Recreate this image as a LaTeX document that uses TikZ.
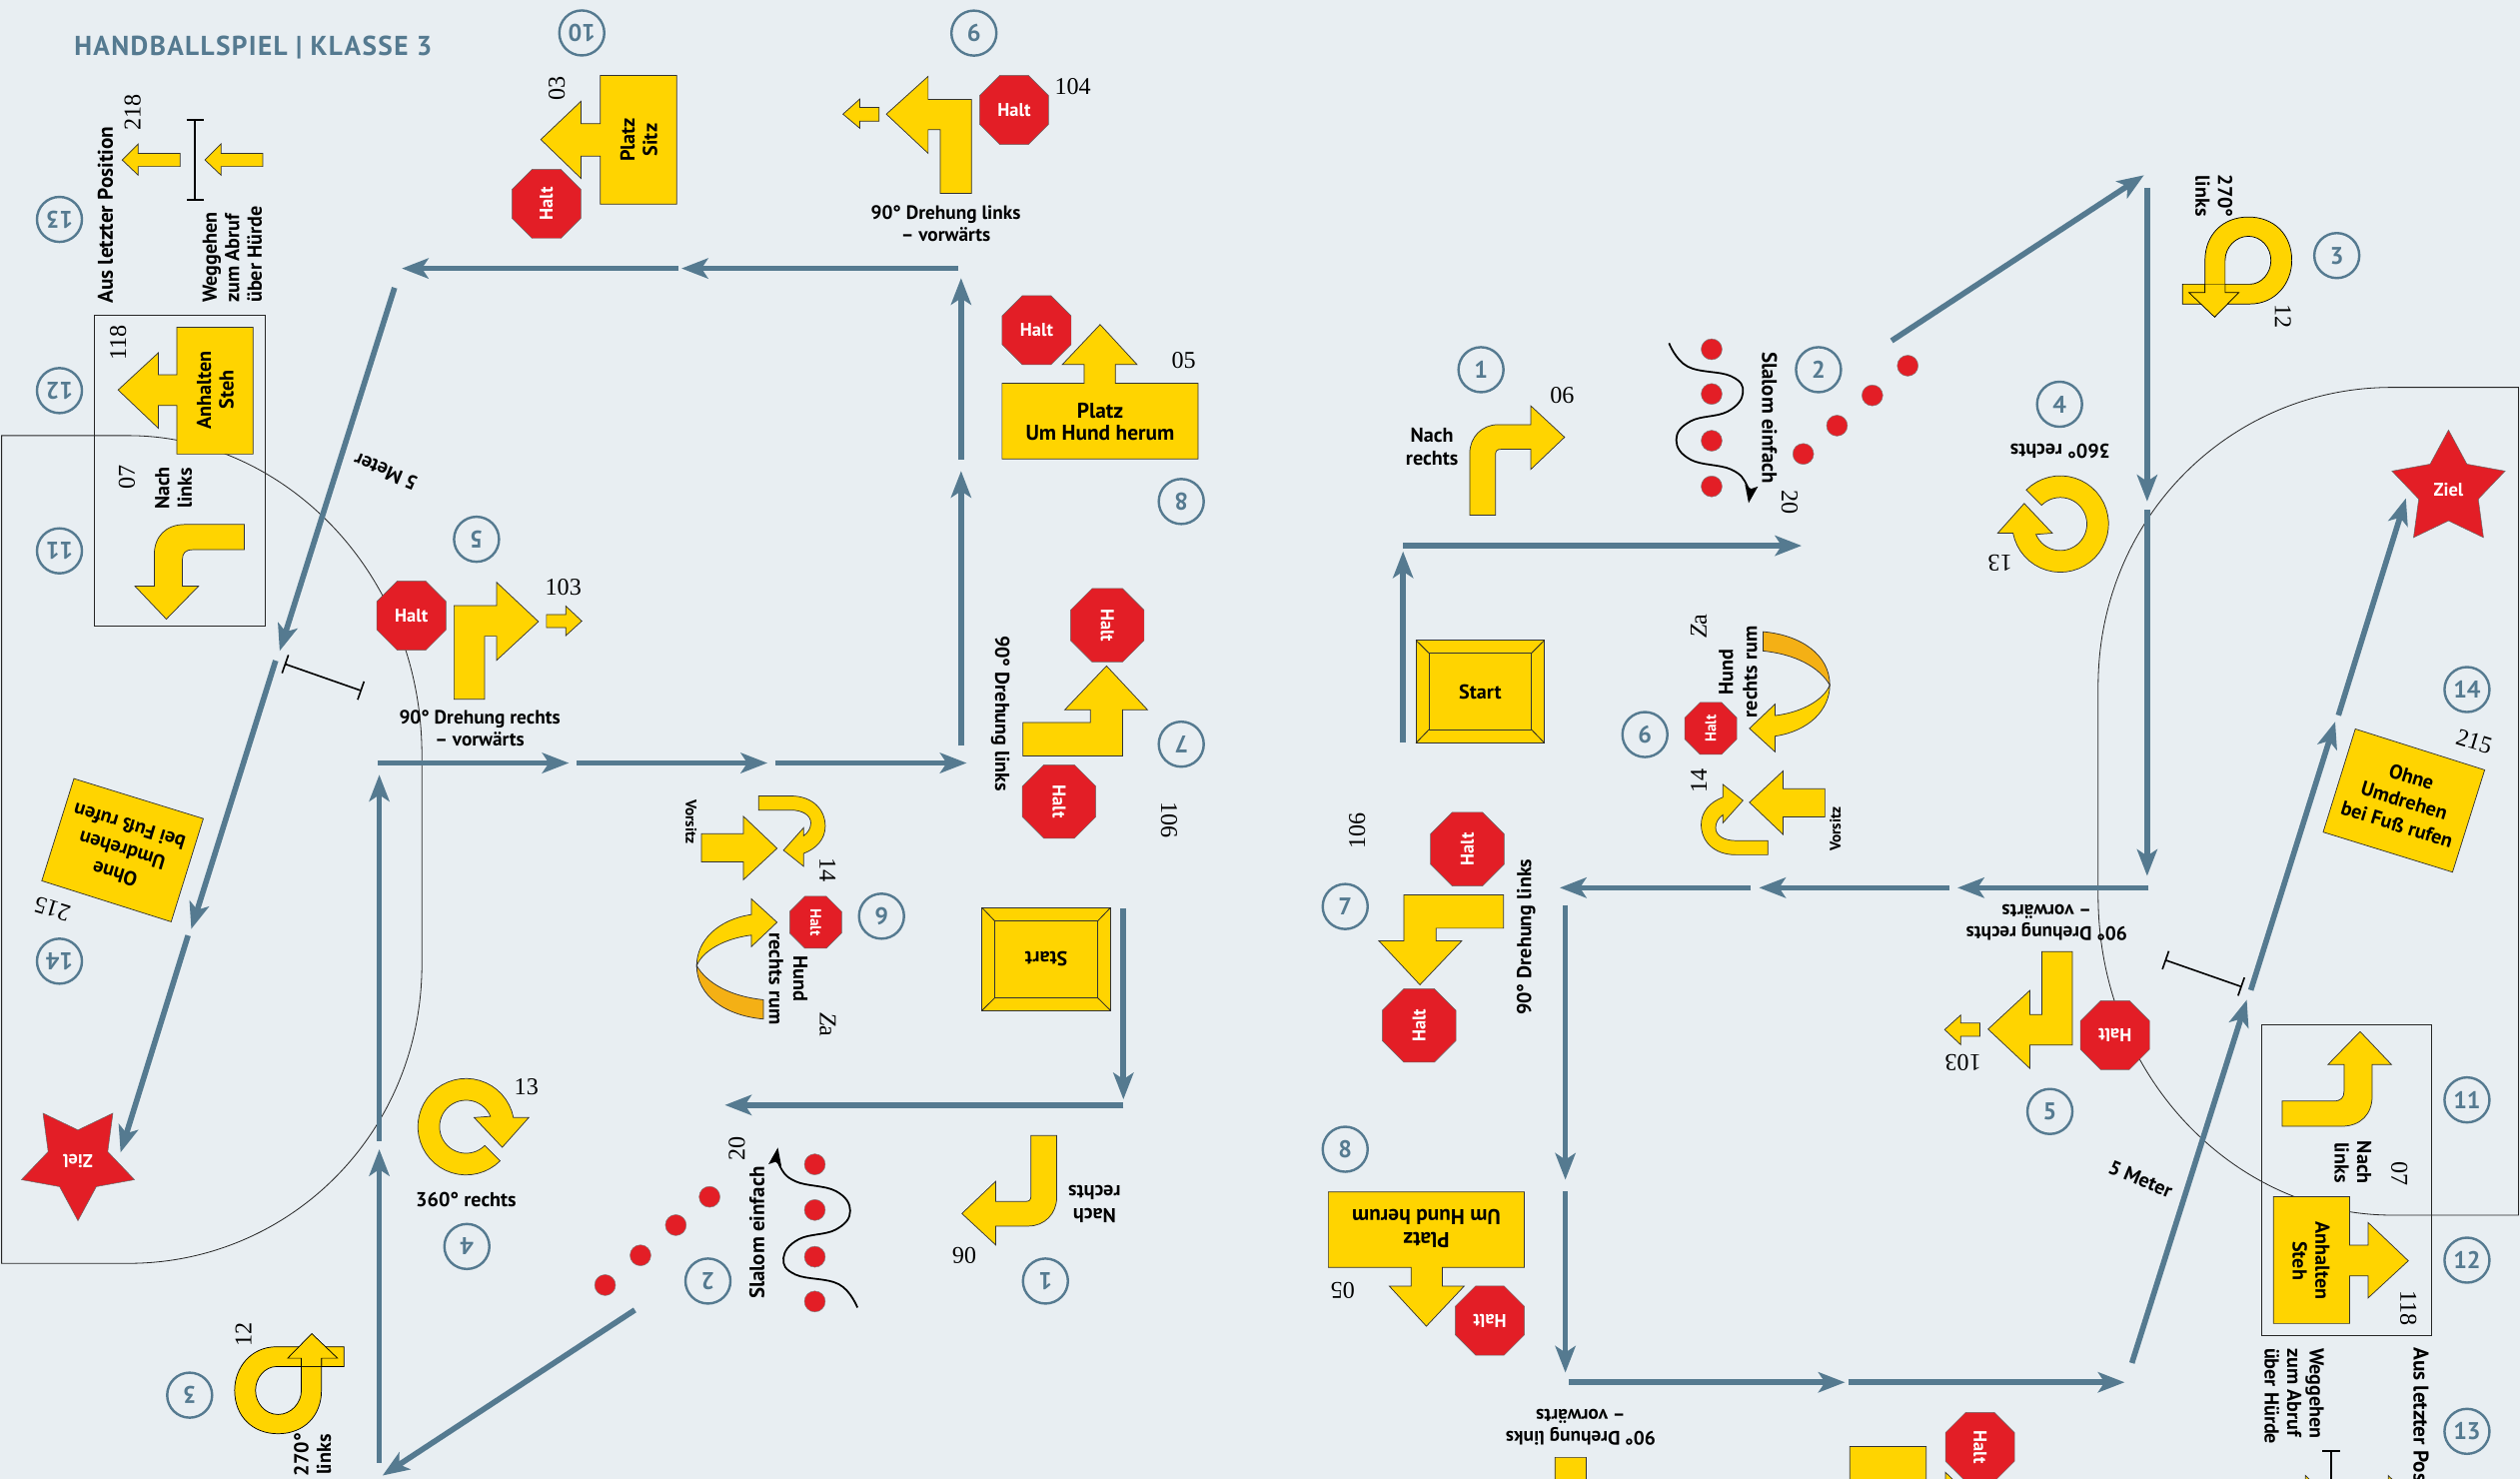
\documentclass[tikz,border=0pt]{standalone}
\usepackage{fontspec}
\setmainfont{PT Sans}
\newfontfamily\numfont{Liberation Serif}
\usetikzlibrary{arrows.meta,shapes.geometric}
\definecolor{grund}{HTML}{E8EEF2}
\definecolor{gelb}{HTML}{FFD400}
\definecolor{orange}{HTML}{F4B015}
\definecolor{rot}{HTML}{E31E26}
\definecolor{blau}{HTML}{557A90}
\tikzset{
  track/.style={blau,line width=3.5pt,-{Stealth[length=16.5pt,width=12.5pt,inset=4pt]}},
  sym/.style={fill=gelb,draw=black!80,line width=.45pt},
  edgeline/.style={draw=black!85,line width=.5pt},
  halt/.style={regular polygon,regular polygon sides=8,fill=rot,draw=black!60,line width=.3pt,
    inner sep=0pt,minimum size=46.5pt,text=white,font=\fontsize{11.5}{12}\selectfont\bfseries},
  numcirc/.style={circle,draw=blau,line width=1.5pt,minimum size=28pt,inner sep=0pt,rotate=180,
    text=blau,font=\fontsize{15}{16}\selectfont\bfseries},
  lbl/.style={align=center,inner sep=0pt,font=\fontsize{12.5}{14}\selectfont\bfseries},
  num/.style={inner sep=0pt,font=\fontsize{15}{16}\selectfont\numfont},
  dot/.style={circle,fill=rot,draw=black!50,line width=.3pt,minimum size=13pt,inner sep=0pt},
}
% one half of the course, drawn twice
\newcommand{\course}[2]{
  \draw[edgeline,xshift=#1] (1,271) -- (80,271) .. controls (175,271) and (262.5,355) .. (262.5,470)
    -- (262.5,600) .. controls (262.5,705) and (180,786) .. (80,786) -- (1,786) -- cycle;

  % track
  \draw[track] (699,565) coordinate (t1) -- (699,684) coordinate (t2);
  \draw[track] (699,687.5) coordinate (t3) -- (451,687.5) coordinate (t4);
  \draw[track] (395,815) coordinate (t5) -- (238,918) coordinate (t6);
  \draw[track] (236,910) coordinate (t7) -- (236,715) coordinate (t8);
  \draw[track] (236,710) coordinate (t9) -- (236,482) coordinate (t10);
  \draw[track] (235,474.7) coordinate (t11) -- (354,474.7) coordinate (t12);
  \draw[track] (359,474.7) coordinate (t13) -- (477.5,474.7) coordinate (t14);
  \draw[track] (482.5,474.7) coordinate (t15) -- (601.5,474.7) coordinate (t16);
  \draw[track] (598,464) coordinate (t17) -- (598,293) coordinate (t18);
  \draw[track] (598,286) coordinate (t19) -- (598,173) coordinate (t20);
  \draw[track] (596,167) coordinate (t21) -- (424,167) coordinate (t22);
  \draw[track] (422,167) coordinate (t23) -- (250,167) coordinate (t24);
  \draw[track] (245.5,179) coordinate (t25) -- (174,405) coordinate (t26);
  \draw[track] (171.5,411) coordinate (t27) -- (119,578) coordinate (t28);
  \draw[track] (117,582) coordinate (t29) -- (75,717) coordinate (t30);

  % 1
  \node[numcirc] (c1) at (650.5,797) {1};
  \draw[sym] (641.5,706.5) -- (657.5,706.5) -- (657.5,745) .. controls (657.5,755) and (650,762.8) .. (640,762.8)
    -- (619.5,762.8) -- (619.5,774.5) -- (598.5,755) -- (619.5,735) -- (619.5,747.5) -- (638,747.5)
    .. controls (640.5,747.5) and (641.5,746.5) .. (641.5,744) -- cycle;
  \node[lbl,rotate=180] (l1) at (681,749) {Nach\\rechts};
  \node[num,rotate=180] (n1) at (600,781) {06};

  % 2
  \node[numcirc] (c2) at (440.5,797) {2};
  \node[dot] (d1) at (507,724.4) {};
  \node[dot] (d2) at (507,752.8) {};
  \node[dot] (d3) at (507,781.9) {};
  \node[dot] (d4) at (507,809.7) {};
  \begin{scope}[xshift=#2]
    \node[dot] (d5) at (441.5,744.6) {};
    \node[dot] (d6) at (420.5,762.2) {};
    \node[dot] (d7) at (398.5,781) {};
    \node[dot] (d8) at (376.5,799.5) {};
  \end{scope}
  \draw[line width=1.1pt,-{Stealth[length=11pt,width=8pt,inset=2pt]}] plot[smooth,tension=.7] coordinates
    {(533.5,813.5)(522,799)(495,793)(487.5,782.7)(497,771)(520,765)(529,753.4)(520,741)(495,735)(485,725)(484,714)};
  \node[lbl,rotate=90,font=\fontsize{13}{14}\selectfont\bfseries] (l2) at (471,767) {Slalom einfach};
  \node[num,rotate=90] (n2) at (458.5,714.7) {20};

  % 3
  \node[numcirc] (c3) at (118,868) {3};
  \draw[sym,draw=black] (214,850.2) -- (214,837.9) -- (172,837.9) .. controls (156,837.9) and (146,851) .. (146,865)
    .. controls (146,881) and (157,892) .. (173,892) .. controls (189,892) and (200,881) .. (200,865)
    -- (200,845) -- (187.5,845) -- (187.5,865) .. controls (187.5,873) and (181,880) .. (173,880)
    .. controls (165,880) and (159,873) .. (159,865) .. controls (159,857) and (165,850.2) .. (172,850.2) -- cycle;
  \draw[sym,draw=black] (187.5,850) -- (187.5,845) -- (179,845) -- (194,829.7) -- (210,845) -- (200,845) -- (200,850);
  \node[lbl,rotate=90] (l3) at (194.5,905) {270°\\links};
  \node[num,rotate=90] (n3) at (151.5,830) {12};

  % 4
  \node[numcirc] (c4) at (290.5,775.5) {4};
  \draw[sym] plot[domain=-11:-315,samples=40] ({290+30*cos(\x)},{701+30*sin(\x)})
    -- plot[domain=-315:-23,samples=40] ({290+16.5*cos(\x)},{701+16.5*sin(\x)})
    -- (295,695.3) -- (312.5,713.8) -- (329,695.3) -- cycle;
  \node[lbl] (l4) at (290,746.4) {360° rechts};
  \node[num] (n4) at (327.5,676.5) {13};

  % 5
  \node[numcirc] (c5) at (296.5,335.5) {5};
  \node[halt] (h5) at (256,383) {Halt};
  \draw[sym] (282.5,435) -- (282.5,376.8) -- (309,376.8) -- (309,362.3) -- (335,386.7) -- (309,410.8)
    -- (309,395.8) -- (301.5,395.8) -- (301.5,435) -- cycle;
  \draw[sym] (340,382.3) -- (352,382.3) -- (352,377) -- (362,386.4) -- (352,395.5) -- (352,390.5) -- (340,390.5) -- cycle;
  \node[lbl,font=\fontsize{12}{14}\selectfont\bfseries] (l5) at (298.5,453) {90° Drehung rechts\\– vorwärts};
  \node[num] (n5) at (350.5,365.6) {103};

  % 6
  \node[numcirc] (c6) at (548.5,570) {6};
  \node[halt,minimum size=35pt,rotate=-90,font=\fontsize{9.5}{10}\selectfont\bfseries] (h6) at (507.5,573.8) {Halt};
  \draw[sym] (467.5,569) .. controls (447,572) and (433.5,585) .. (433.5,600.8)
    .. controls (437,592) and (450,584) .. (467.5,581.8) -- (467.5,589) -- (483.5,573.8) -- (467.5,559.2) -- cycle;
  \draw[sym,fill=orange] (433.5,600.8) .. controls (433.5,620) and (452,632) .. (475,634) -- (475,622)
    .. controls (455,620) and (440,612) .. (433.5,600.8) -- cycle;
  \node[lbl,rotate=-90,font=\fontsize{12.5}{15}\selectfont\bfseries] (l6) at (490.5,609) {Hund\\rechts rum};
  \node[num,rotate=-90] (n6) at (515,637.5) {\itshape Z\upshape a};
  \draw[sym] (436.5,518.7) -- (462.5,518.7) -- (462.5,507.8) -- (483.5,527.8) -- (462.5,547.4) -- (462.5,536.3) -- (436.5,536.3) -- cycle;
  \draw[sym] (472,495.2) -- (492,495.2) .. controls (506,495.2) and (513.5,504) .. (513.5,514)
    .. controls (513.5,522) and (508,528) .. (500,531) -- (500,539) -- (487.5,529) -- (500,515) -- (500,520)
    .. controls (503,518) and (504.5,515) .. (504.5,512) .. controls (504.5,507) and (499,504) .. (492,504) -- (472,504) -- cycle;
  \node[lbl,rotate=-90,font=\fontsize{9.5}{10}\selectfont\bfseries] (l6b) at (430,511.3) {Vorsitz};
  \node[num,rotate=-90] (n6b) at (515,541) {14};

  % 7
  \node[numcirc] (c7) at (735,463) {7};
  \node[halt,minimum size=49.5pt,rotate=-90] (h7a) at (689,389) {Halt};
  \node[halt,minimum size=49.5pt,rotate=-90] (h7b) at (659,498.7) {Halt};
  \draw[sym] (636.5,449.5) -- (678.5,449.5) -- (678.5,441.6) -- (662.5,441.6) -- (688.5,414.3) -- (714,441.6)
    -- (698.5,441.6) -- (698.5,470.3) -- (636.5,470.3) -- cycle;
  \node[lbl,rotate=-90] (l7) at (622.5,444) {90° Drehung links};
  \node[num,rotate=-90] (n7) at (727.5,510) {106};

  % 8
  \node[numcirc] (c8) at (735,312) {8};
  \node[halt] (h8) at (645,205.4) {Halt};
  \draw[sym] (623.5,238.5) -- (674.5,238.5) -- (674.5,226.8) -- (661,226.8) -- (684.5,201.9) -- (707.5,226.8)
    -- (694,226.8) -- (694,238.5) -- (745.5,238.5) -- (745.5,285.5) -- (623.5,285.5) -- cycle;
  \node[lbl,font=\fontsize{13.3}{14}\selectfont\bfseries] (l8) at (684.5,262.5) {Platz\\Um Hund herum};
  \node[num] (n8) at (736.5,224) {05};

  % 9
  \node[numcirc] (c9) at (606,20.6) {9};
  \node[halt] (h9) at (631,68.4) {Halt};
  \draw[sym] (585,120.3) -- (604.5,120.3) -- (604.5,61.9) -- (577.5,61.9) -- (577.5,47.5) -- (551.5,71)
    -- (577.5,95.4) -- (577.5,80.7) -- (585,80.7) -- cycle;
  \draw[sym] (547,66.9) -- (535,66.9) -- (535,61.6) -- (524.5,71) -- (535,79.8) -- (535,75.4) -- (547,75.4) -- cycle;
  \node[lbl,font=\fontsize{12}{14}\selectfont\bfseries] (l9) at (588.5,139) {90° Drehung links\\– vorwärts};
  \node[num] (n9) at (667.5,54) {104};

  % 10
  \node[numcirc] (c10) at (362,20.5) {10};
  \node[halt,rotate=90] (h10) at (340,126.8) {Halt};
  \draw[sym] (373.5,47) -- (421,47) -- (421,127) -- (373.5,127) -- (373.5,97.1) -- (361.5,97.1) -- (361.5,111)
    -- (336.5,86.8) -- (361.5,63) -- (361.5,76.9) -- (373.5,76.9) -- cycle;
  \node[lbl,rotate=90] (l10) at (397.5,87) {Platz\\Sitz};
  \node[num,rotate=90] (n10) at (346.5,55) {03};

  % 11 and 12
  \draw[edgeline] (59,196) rectangle (165,389.3);
  \node[numcirc] (c11) at (37,342.7) {11};
  \draw[sym] (152,326.3) -- (152,342) -- (120,342) .. controls (115.5,342) and (113.5,344) .. (113.5,348)
    -- (113.5,364.7) -- (123.5,364.7) -- (103.5,385.2) -- (84,364.7) -- (96,364.7) -- (96,345)
    .. controls (96,334) and (103,326.3) .. (115,326.3) -- cycle;
  \node[lbl,rotate=90] (l11) at (108,303.7) {Nach\\links};
  \node[num,rotate=90] (n11) at (79,297) {07};
  \node[numcirc] (c12) at (37,243) {12};
  \draw[sym] (110,203.6) -- (157.5,203.6) -- (157.5,282.5) -- (110,282.5) -- (110,252.3) -- (98.5,252.3)
    -- (98.5,266.4) -- (73.5,242.6) -- (98.5,219.5) -- (98.5,233.2) -- (110,233.2) -- cycle;
  \node[lbl,rotate=90] (l12) at (134,242.6) {Anhalten\\Steh};
  \node[num,rotate=90] (n12) at (73.5,213.3) {118};

  % 13
  \node[numcirc] (c13) at (37,136.5) {13};
  \node[lbl,rotate=90,font=\fontsize{13.2}{14}\selectfont\bfseries] (l13a) at (65.5,133.8) {Aus letzter Position};
  \node[lbl,rotate=90,anchor=west,align=left] (l13b) at (144.5,188.4) {Weggehen\\zum Abruf\\über Hürde};
  \node[num,rotate=90] (n13) at (82.5,70) {218};
  \draw[sym] (112,95.4) -- (86,95.4) -- (86,89.5) -- (76,99.5) -- (86,109) -- (86,103.6) -- (112,103.6) -- cycle;
  \draw[sym] (163.5,95.4) -- (137.5,95.4) -- (137.5,89.5) -- (127.5,99.5) -- (137.5,109) -- (137.5,103.6) -- (163.5,103.6) -- cycle;
  \draw[line width=1.2pt,{Bar[width=11pt]}-{Bar[width=11pt]}] (121.5,74) coordinate (b1) -- (121.5,124.7) coordinate (b2);

  % 14
  \node[numcirc] (c14) at (37,598) {14};
  \draw[sym] (46,484.4) -- (126.5,509.3) -- (106.5,573.5) -- (26,548) -- cycle;
  \node[lbl,rotate=163,font=\fontsize{12.5}{15.5}\selectfont\bfseries] (l14) at (76,529) {Ohne\\Umdrehen\\bei Fuß rufen};
  \node[num,rotate=163] (n14) at (32.5,565.6) {215};
  \node[star,star points=5,star point ratio=1.9,fill=rot,draw=black!60,line width=.3pt,minimum size=74pt,inner sep=0pt,
    rotate=180,text=white,font=\fontsize{11.5}{12}\selectfont\bfseries] (ziel) at (48.5,722.5) {Ziel};

  % start and distance mark
  \draw[sym] (611,564.7) rectangle (691,628.7);
  \draw[sym] (619,573) rectangle (683,620.8);
  \draw[edgeline] (611,564.7) -- (619,573) (691,564.7) -- (683,573) (611,628.7) -- (619,620.8) (691,628.7) -- (683,620.8);
  \node[lbl,rotate=180] (start) at (651,596.5) {Start};
  \draw[line width=1pt,{Bar[width=12pt]}-{Bar[width=12pt]}] (177,413) coordinate (m1) -- (225,429.8) coordinate (m2);
  \node[lbl,rotate=157] (meter) at (240,293.4) {5 Meter};
}
\begin{document}
\begin{tikzpicture}[x=1pt,y=-1pt]
  \useasboundingbox (0,0) rectangle (1568,920.1);
  \clip (0,0) rectangle (1568,920.1);
  \fill[grund] (0,0) rectangle (1568,920.1);
  \begin{scope}[name prefix=a-]
    \course{0pt}{0pt}
  \end{scope}
  \begin{scope}[name prefix=b-,rotate around={180:(786,513.5)},transform shape]
    \course{4pt}{8.5pt}
  \end{scope}
  \node[anchor=west,inner sep=0pt,text=blau,font=\fontsize{17}{18}\selectfont\bfseries] (title) at (46,29.5)
    {\addfontfeature{LetterSpace=5}HANDBALLSPIEL | KLASSE 3};
\end{tikzpicture}
\end{document}
